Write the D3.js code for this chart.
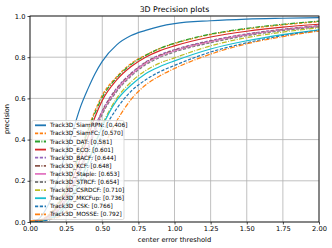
<!DOCTYPE html>
<html>
<head>
<meta charset="utf-8">
<script src="https://cdn.jsdelivr.net/npm/d3@7"></script>
<style>
  body { margin: 0; background: #fff; }
  svg { font-family: "DejaVu Sans", sans-serif; }
</style>
</head>
<body>
<svg width="332" height="248"></svg>
<script>
// thresholds (x) shared by every curve
var thresholds = [0, 0.05, 0.1, 0.15, 0.2, 0.25, 0.3, 0.35, 0.4, 0.45, 0.5, 0.6, 0.7, 0.8, 0.9, 1.0, 1.25, 1.5, 1.75, 2.0];

var siamRPN = [0, 0.01, 0.05, 0.12, 0.23, 0.34, 0.45, 0.56, 0.645, 0.72, 0.78, 0.86, 0.905, 0.93, 0.95, 0.963, 0.977, 0.985, 0.989, 0.992];
var siamFC  = [0, 0.005, 0.02, 0.05, 0.1, 0.17, 0.26, 0.35, 0.45, 0.54, 0.615, 0.705, 0.77, 0.81, 0.843, 0.866, 0.91, 0.937, 0.957, 0.972];
var dat     = [0, 0.004, 0.018, 0.045, 0.09, 0.16, 0.25, 0.34, 0.44, 0.53, 0.605, 0.70, 0.765, 0.808, 0.843, 0.868, 0.912, 0.94, 0.96, 0.975];
var eco     = [0, 0.004, 0.016, 0.04, 0.08, 0.14, 0.22, 0.31, 0.41, 0.51, 0.59, 0.69, 0.755, 0.80, 0.832, 0.855, 0.898, 0.926, 0.946, 0.96];
var bacf    = [0, 0.003, 0.013, 0.032, 0.065, 0.12, 0.19, 0.27, 0.36, 0.46, 0.54, 0.65, 0.723, 0.777, 0.812, 0.837, 0.881, 0.913, 0.936, 0.953];
var kcf     = [0, 0.003, 0.013, 0.031, 0.062, 0.115, 0.185, 0.265, 0.355, 0.455, 0.535, 0.645, 0.72, 0.774, 0.809, 0.834, 0.878, 0.91, 0.934, 0.951];
var staple  = [0, 0.003, 0.012, 0.03, 0.06, 0.11, 0.18, 0.26, 0.35, 0.45, 0.53, 0.64, 0.715, 0.77, 0.805, 0.83, 0.875, 0.908, 0.932, 0.95];
var strcf   = [0, 0.003, 0.011, 0.028, 0.056, 0.105, 0.173, 0.252, 0.342, 0.44, 0.522, 0.633, 0.708, 0.763, 0.799, 0.825, 0.87, 0.904, 0.929, 0.947];
var csrdcf  = [0, 0.002, 0.008, 0.02, 0.045, 0.085, 0.14, 0.21, 0.29, 0.38, 0.47, 0.60, 0.68, 0.735, 0.772, 0.797, 0.855, 0.895, 0.922, 0.943];
var mkcfup  = [0, 0.002, 0.008, 0.02, 0.044, 0.083, 0.137, 0.205, 0.285, 0.375, 0.462, 0.59, 0.665, 0.72, 0.755, 0.782, 0.84, 0.88, 0.91, 0.933];
var csk     = [0, 0.002, 0.006, 0.015, 0.035, 0.07, 0.12, 0.18, 0.255, 0.34, 0.43, 0.55, 0.635, 0.69, 0.73, 0.76, 0.825, 0.87, 0.905, 0.93];
var mosse   = [0.005, 0.008, 0.012, 0.015, 0.025, 0.05, 0.09, 0.14, 0.2, 0.27, 0.35, 0.49, 0.595, 0.665, 0.71, 0.745, 0.815, 0.865, 0.9, 0.927];

var names  = ["Track3D_SiamRPN", "Track3D_SiamFC", "Track3D_DAT", "Track3D_ECO", "Track3D_BACF", "Track3D_KCF",
              "Track3D_Staple", "Track3D_STRCF", "Track3D_CSRDCF", "Track3D_MKCFup", "Track3D_CSK", "Track3D_MOSSE"];
var scores = ["0.406", "0.570", "0.581", "0.601", "0.644", "0.648", "0.653", "0.654", "0.710", "0.736", "0.766", "0.792"];
var seriesValues = [siamRPN, siamFC, dat, eco, bacf, kcf, staple, strcf, csrdcf, mkcfup, csk, mosse];

var xTicks = [0, 0.25, 0.5, 0.75, 1.0, 1.25, 1.5, 1.75, 2.0];
var yTicks = [0, 0.2, 0.4, 0.6, 0.8, 1.0];

// styling (matplotlib tab10 cycle with solid / dashed / dash-dot)
var colors = ["#1f77b4", "#ff7f0e", "#2ca02c", "#d62728", "#9467bd", "#8c564b",
              "#e377c2", "#7f7f7f", "#bcbd22", "#17becf", "#1f77b4", "#ff7f0e"];
var dashFor = { solid: null, dashed: "3.2,1.6", dashdot: "5,1.4,1,1.4" };
var styles = ["solid", "dashed", "dashdot", "solid", "dashed", "dashdot",
              "solid", "dashed", "dashdot", "solid", "dashed", "dashdot"];

var svg = d3.select("svg");
var mLeft = 30, mRight = 319, mTop = 16, mBottom = 222;

var x = d3.scaleLinear().domain([0, 2]).range([mLeft, mRight]);
var y = d3.scaleLinear().domain([0, 1]).range([mBottom, mTop]);

// grid
svg.append("g").selectAll("line").data(xTicks).enter().append("line")
  .attr("x1", d => x(d)).attr("x2", d => x(d))
  .attr("y1", mTop).attr("y2", mBottom)
  .attr("stroke", "#b0b0b0").attr("stroke-width", 0.8);
svg.append("g").selectAll("line").data(yTicks).enter().append("line")
  .attr("x1", mLeft).attr("x2", mRight)
  .attr("y1", d => y(d)).attr("y2", d => y(d))
  .attr("stroke", "#b0b0b0").attr("stroke-width", 0.8);

svg.append("clipPath").attr("id", "clip").append("rect")
  .attr("x", mLeft).attr("y", mTop).attr("width", mRight - mLeft).attr("height", mBottom - mTop);

var line = d3.line()
  .x((d, i) => x(thresholds[i]))
  .y(d => y(d))
  .curve(d3.curveMonotoneX);

svg.append("g").attr("clip-path", "url(#clip)")
  .selectAll("path").data(seriesValues).enter().append("path")
  .attr("d", line)
  .attr("fill", "none")
  .attr("stroke", (d, i) => colors[i])
  .attr("stroke-width", 1.2)
  .attr("stroke-dasharray", (d, i) => dashFor[styles[i]]);

// axes
var xAxis = d3.axisBottom(x).tickValues(xTicks).tickFormat(d3.format(".2f")).tickSize(2.5).tickPadding(2);
var yAxis = d3.axisLeft(y).tickValues(yTicks).tickFormat(d3.format(".1f")).tickSize(2.5).tickPadding(2);

var gx = svg.append("g").attr("transform", "translate(0," + mBottom + ")").call(xAxis);
var gy = svg.append("g").attr("transform", "translate(" + mLeft + ",0)").call(yAxis);
[gx, gy].forEach(function (g) {
  g.select(".domain").remove();
  g.selectAll("text").attr("font-size", 6.7).attr("fill", "#000").attr("font-family", "DejaVu Sans");
  g.selectAll("line").attr("stroke", "#000").attr("stroke-width", 0.7);
});

svg.append("rect")
  .attr("x", mLeft).attr("y", mTop).attr("width", mRight - mLeft).attr("height", mBottom - mTop)
  .attr("fill", "none").attr("stroke", "#000").attr("stroke-width", 0.8);

// titles
svg.append("text").attr("x", (mLeft + mRight) / 2).attr("y", 12)
  .attr("text-anchor", "middle").attr("font-size", 7.8).text("3D Precision plots");
svg.append("text").attr("x", (mLeft + mRight) / 2).attr("y", 242)
  .attr("text-anchor", "middle").attr("font-size", 6.7).text("center error threshold");
svg.append("text").attr("transform", "translate(9," + ((mTop + mBottom) / 2) + ") rotate(-90)")
  .attr("text-anchor", "middle").attr("font-size", 6.7).text("precision");

// legend
var lg = svg.append("g").attr("transform", "translate(32,120.5)");
lg.append("rect").attr("width", 92).attr("height", 99).attr("rx", 1.5)
  .attr("fill", "#fff").attr("fill-opacity", 0.8)
  .attr("stroke", "#cccccc").attr("stroke-width", 0.7);

var rows = lg.selectAll("g.row").data(names).enter().append("g")
  .attr("class", "row")
  .attr("transform", (d, i) => "translate(0," + (4.8 + i * 8.1) + ")");
rows.append("line")
  .attr("x1", 3).attr("x2", 14).attr("y1", 0).attr("y2", 0)
  .attr("stroke", (d, i) => colors[i])
  .attr("stroke-width", 1.8)
  .attr("stroke-dasharray", (d, i) => dashFor[styles[i]]);
rows.append("text")
  .attr("x", 18).attr("y", 2)
  .attr("font-size", 5.8)
  .text((d, i) => d + ": [" + scores[i] + "]");
</script>
</body>
</html>
